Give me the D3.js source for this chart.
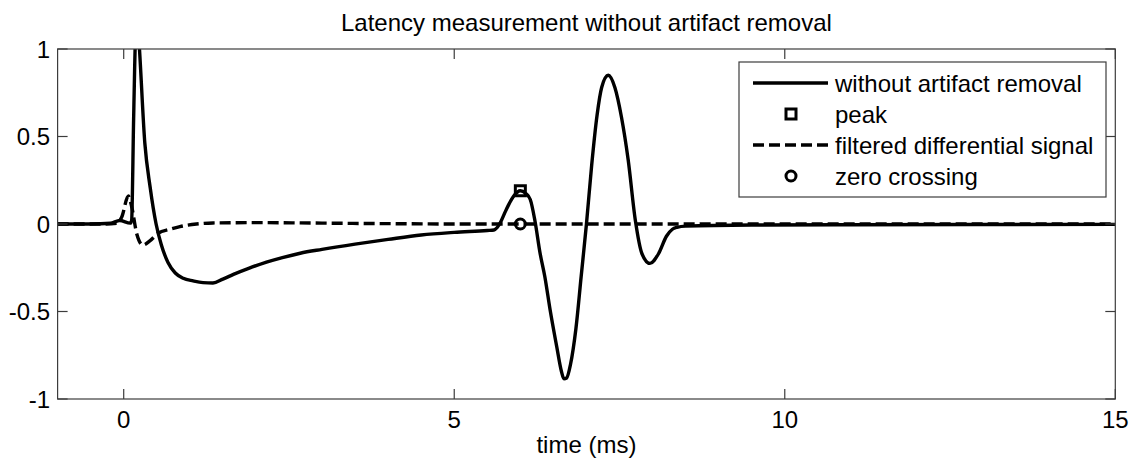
<!DOCTYPE html>
<html>
<head>
<meta charset="utf-8">
<script src="https://cdn.jsdelivr.net/npm/d3@7"></script>
<style>
  html, body { margin: 0; padding: 0; background: #fff; }
  svg text { font-family: "Liberation Sans", Arial, sans-serif; fill: #000; }
</style>
</head>
<body>
<svg id="chart" width="1138" height="463"></svg>
<script>
// Recorded response (ms, normalised amplitude)
const solidTime = [-1, -0.5, -0.2, -0.06, 0.1, 0.12, 0.15, 0.18, 0.2, 0.23, 0.32, 0.40, 0.49, 0.57, 0.67, 0.78, 0.9, 1.05, 1.2, 1.35, 1.5, 1.66, 1.9, 2.16, 2.4, 2.67, 3.0, 3.5, 4.0, 4.5, 5.0, 5.5, 5.6, 5.65, 5.7, 5.76, 5.82, 5.9, 6.0, 6.08, 6.15, 6.22, 6.30, 6.37, 6.45, 6.55, 6.62, 6.66, 6.70, 6.76, 6.84, 6.92, 7.0, 7.08, 7.16, 7.23, 7.33, 7.43, 7.53, 7.63, 7.74, 7.84, 7.96, 8.09, 8.21, 8.3, 8.37, 8.5, 9.5, 11, 13, 15];
const solidAmp  = [0, 0, 0.004, 0.02, 0.005, 0.02, 0.6, 1.1, 1.2, 1.05, 0.46, 0.21, 0, -0.12, -0.22, -0.28, -0.31, -0.325, -0.335, -0.337, -0.315, -0.288, -0.252, -0.218, -0.192, -0.167, -0.145, -0.115, -0.088, -0.063, -0.048, -0.037, -0.034, -0.02, 0.01, 0.06, 0.108, 0.16, 0.19, 0.175, 0.14, 0.02, -0.17, -0.3, -0.49, -0.70, -0.84, -0.885, -0.88, -0.8, -0.6, -0.3, 0, 0.34, 0.62, 0.78, 0.85, 0.78, 0.61, 0.37, 0.02, -0.17, -0.225, -0.17, -0.07, -0.03, -0.019, -0.012, -0.006, -0.004, -0.003, -0.002];

// Filtered differential signal
const diffTime = [-1, -0.3, -0.1, -0.03, 0.07, 0.12, 0.2, 0.29, 0.4, 0.52, 0.7, 0.85, 1.1, 1.35, 2, 3, 4, 5, 6, 8, 15];
const diffAmp  = [0, 0, 0.005, 0.04, 0.16, 0.1, -0.06, -0.12, -0.095, -0.053, -0.03, -0.015, 0.0, 0.006, 0.008, 0.005, 0.002, 0, 0, 0, 0];

// Detected latency points
const peakPoint = [6.0, 0.19];
const zeroPoint = [6.0, 0];

const xTicks = [0, 5, 10, 15];
const yTicks = [-1, -0.5, 0, 0.5, 1];
const legendLabels = ["without artifact removal", "peak", "filtered differential signal", "zero crossing"];
const titleText = "Latency measurement without artifact removal";
const xLabelText = "time (ms)";

(function draw() {
  const svg = d3.select("#chart");
  const pl = 57.6, pr = 1115.3, pt = 49, pb = 399;
  const x = d3.scaleLinear().domain([-1, 15]).range([pl, pr]);
  const y = d3.scaleLinear().domain([-1, 1]).range([pb, pt]);
  const fontSize = 24;
  const axisColor = "#3c3c3c";
  const tickLen = 10;

  svg.append("defs").append("clipPath").attr("id", "plotClip")
    .append("rect").attr("x", pl).attr("y", pt).attr("width", pr - pl).attr("height", pb - pt);

  const plot = svg.append("g").attr("clip-path", "url(#plotClip)");
  const line = d3.line().x(d => x(d[0])).y(d => y(d[1])).curve(d3.curveMonotoneX);

  plot.append("path")
    .datum(d3.zip(solidTime, solidAmp))
    .attr("d", line)
    .attr("fill", "none").attr("stroke", "#000").attr("stroke-width", 3.4)
    .attr("stroke-linejoin", "round");

  plot.append("rect")
    .attr("x", x(peakPoint[0]) - 5).attr("y", y(peakPoint[1]) - 5)
    .attr("width", 10).attr("height", 10)
    .attr("fill", "none").attr("stroke", "#000").attr("stroke-width", 3);

  plot.append("path")
    .datum(d3.zip(diffTime, diffAmp))
    .attr("d", line)
    .attr("fill", "none").attr("stroke", "#000").attr("stroke-width", 3.4)
    .attr("stroke-dasharray", "11,5");

  plot.append("circle")
    .attr("cx", x(zeroPoint[0])).attr("cy", y(zeroPoint[1])).attr("r", 5)
    .attr("fill", "none").attr("stroke", "#000").attr("stroke-width", 3);

  // Axes box with inward ticks on all four sides
  const axes = svg.append("g");
  axes.append("rect").attr("x", pl).attr("y", pt).attr("width", pr - pl).attr("height", pb - pt)
    .attr("fill", "none").attr("stroke", axisColor).attr("stroke-width", 1.2);

  xTicks.forEach(t => {
    const px = x(t);
    axes.append("line").attr("x1", px).attr("x2", px).attr("y1", pb).attr("y2", pb - tickLen)
      .attr("stroke", axisColor).attr("stroke-width", 1.2);
    axes.append("line").attr("x1", px).attr("x2", px).attr("y1", pt).attr("y2", pt + tickLen)
      .attr("stroke", axisColor).attr("stroke-width", 1.2);
    axes.append("text").attr("x", px).attr("y", 428).attr("text-anchor", "middle")
      .attr("font-size", fontSize).text(String(t));
  });
  yTicks.forEach(t => {
    const py = y(t);
    axes.append("line").attr("x1", pl).attr("x2", pl + tickLen).attr("y1", py).attr("y2", py)
      .attr("stroke", axisColor).attr("stroke-width", 1.2);
    axes.append("line").attr("x1", pr).attr("x2", pr - tickLen).attr("y1", py).attr("y2", py)
      .attr("stroke", axisColor).attr("stroke-width", 1.2);
    axes.append("text").attr("x", 50).attr("y", py).attr("dy", "0.36em").attr("text-anchor", "end")
      .attr("font-size", fontSize).text(String(t));
  });

  svg.append("text").attr("x", (pl + pr) / 2).attr("y", 31).attr("text-anchor", "middle")
    .attr("font-size", fontSize).text(titleText);
  svg.append("text").attr("x", (pl + pr) / 2).attr("y", 453).attr("text-anchor", "middle")
    .attr("font-size", fontSize).text(xLabelText);

  // Legend
  const lg = svg.append("g");
  const lgX = 739, lgY = 62, lgW = 367, lgH = 135;
  lg.append("rect").attr("x", lgX).attr("y", lgY).attr("width", lgW).attr("height", lgH)
    .attr("fill", "#fff").attr("stroke", axisColor).attr("stroke-width", 1.2);
  const rowY = i => lgY + 21 + i * 31;
  const sx1 = 753, sx2 = 828, sMid = 791, textX = 835;
  lg.append("line").attr("x1", sx1).attr("x2", sx2).attr("y1", rowY(0)).attr("y2", rowY(0))
    .attr("stroke", "#000").attr("stroke-width", 3.4);
  lg.append("rect").attr("x", sMid - 5).attr("y", rowY(1) - 5).attr("width", 10).attr("height", 10)
    .attr("fill", "none").attr("stroke", "#000").attr("stroke-width", 3);
  lg.append("line").attr("x1", sx1).attr("x2", sx2).attr("y1", rowY(2)).attr("y2", rowY(2))
    .attr("stroke", "#000").attr("stroke-width", 3.4).attr("stroke-dasharray", "11,5");
  lg.append("circle").attr("cx", sMid).attr("cy", rowY(3)).attr("r", 5)
    .attr("fill", "none").attr("stroke", "#000").attr("stroke-width", 3);
  legendLabels.forEach((s, i) => {
    lg.append("text").attr("x", textX).attr("y", rowY(i)).attr("dy", "0.36em")
      .attr("font-size", fontSize).text(s);
  });
})();
</script>
</body>
</html>
